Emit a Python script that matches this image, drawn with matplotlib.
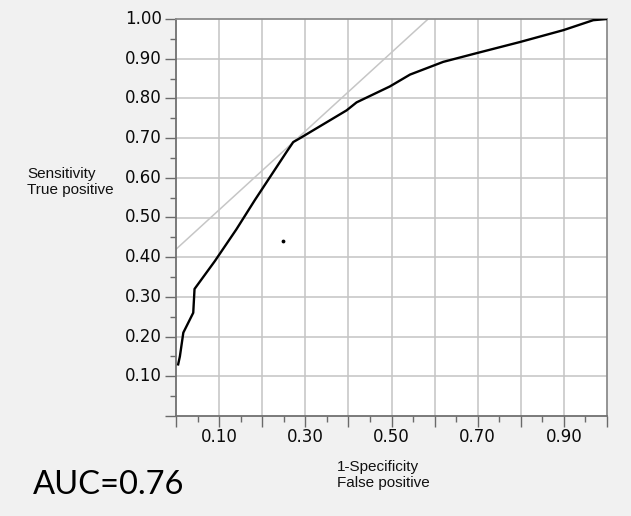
import numpy as np
import matplotlib
matplotlib.use("Agg")
import matplotlib.pyplot as plt
from matplotlib.ticker import MultipleLocator

# ---------------------------------------------------------------------------
# Data
# ---------------------------------------------------------------------------
fpr = [0.005, 0.009, 0.017, 0.040, 0.043, 0.090, 0.140, 0.183, 0.257, 0.272,
       0.288, 0.396, 0.419, 0.496, 0.543, 0.620, 0.694, 0.798, 0.899, 0.968, 1.000]
tpr = [0.130, 0.150, 0.210, 0.260, 0.320, 0.390, 0.470, 0.544, 0.666, 0.690,
       0.700, 0.770, 0.790, 0.830, 0.860, 0.892, 0.913, 0.942, 0.972, 0.997, 1.000]

# tangent (gray) line endpoints
tangent_x = [0.0, 0.585]
tangent_y = [0.42, 1.0]

# stray point
dot_x = [0.248]
dot_y = [0.44]

x_ticklabels = ["0.10", "0.30", "0.50", "0.70", "0.90"]
x_label_pos = [0.1, 0.3, 0.5, 0.7, 0.9]
y_ticklabels = ["0.10", "0.20", "0.30", "0.40", "0.50",
                "0.60", "0.70", "0.80", "0.90", "1.00"]
y_label_pos = [0.1, 0.2, 0.3, 0.4, 0.5, 0.6, 0.7, 0.8, 0.9, 1.0]
auc_text = "AUC=0.76"

# ---------------------------------------------------------------------------
# Figure
# ---------------------------------------------------------------------------
fig = plt.figure(figsize=(6.31, 5.16), dpi=100, facecolor="#f1f1f1")
ax = fig.add_axes([176 / 631, 1 - 416 / 516, (607 - 176) / 631, (416 - 19) / 516])
ax.set_facecolor("white")

ax.set_xlim(0, 1.0)
ax.set_ylim(0, 1.0)

# grid
for g in np.arange(0.1, 1.0, 0.1):
    ax.axvline(g, color="#c4c4c4", lw=1.1, zorder=1)
    ax.axhline(g, color="#c4c4c4", lw=1.1, zorder=1)

ax.plot(tangent_x, tangent_y, color="#c6c6c6", lw=1.1, zorder=2)
ax.plot(fpr, tpr, color="black", lw=1.7, zorder=3, solid_joinstyle="round")
ax.scatter(dot_x, dot_y, s=3, color="black", zorder=3)

# ticks
ax.xaxis.set_major_locator(MultipleLocator(0.1))
ax.xaxis.set_minor_locator(MultipleLocator(0.05))
ax.yaxis.set_major_locator(MultipleLocator(0.1))
ax.yaxis.set_minor_locator(MultipleLocator(0.05))
ax.set_xticklabels([])
ax.set_yticklabels([])
ax.tick_params(which="major", direction="out", length=8, width=1.0, color="#6a6a6a")
ax.tick_params(which="minor", direction="out", length=4, width=1.0, color="#6a6a6a")

for sp in ["left", "bottom"]:
    ax.spines[sp].set_color("#707070")
    ax.spines[sp].set_linewidth(1.3)
for sp in ["top", "right"]:
    ax.spines[sp].set_color("#8c8c8c")
    ax.spines[sp].set_linewidth(1.3)

tick_font = dict(family="DejaVu Sans", fontsize=12, color="#0a0a0a")
for p, t in zip(x_label_pos, x_ticklabels):
    ax.text(p, -0.052, t, ha="center", va="center", transform=ax.transData,
            clip_on=False, **tick_font)
for p, t in zip(y_label_pos, y_ticklabels):
    ax.text(-0.033, p, t, ha="right", va="center", transform=ax.transData,
            clip_on=False, **tick_font)

lab_font = dict(family="Liberation Sans", fontsize=11, color="#111111")
fig.text(27 / 631, 1 - 182 / 516, "Sensitivity\nTrue positive",
         ha="left", va="center", linespacing=1.15, **lab_font)
fig.text(337 / 631, 1 - 475 / 516, "1-Specificity\nFalse positive",
         ha="left", va="center", linespacing=1.15, **lab_font)
fig.text(33 / 631, 1 - 485 / 516, auc_text, ha="left", va="center",
         family="Lato", fontsize=23.5, color="black")

fig.savefig("out.png", dpi=100, facecolor=fig.get_facecolor())
